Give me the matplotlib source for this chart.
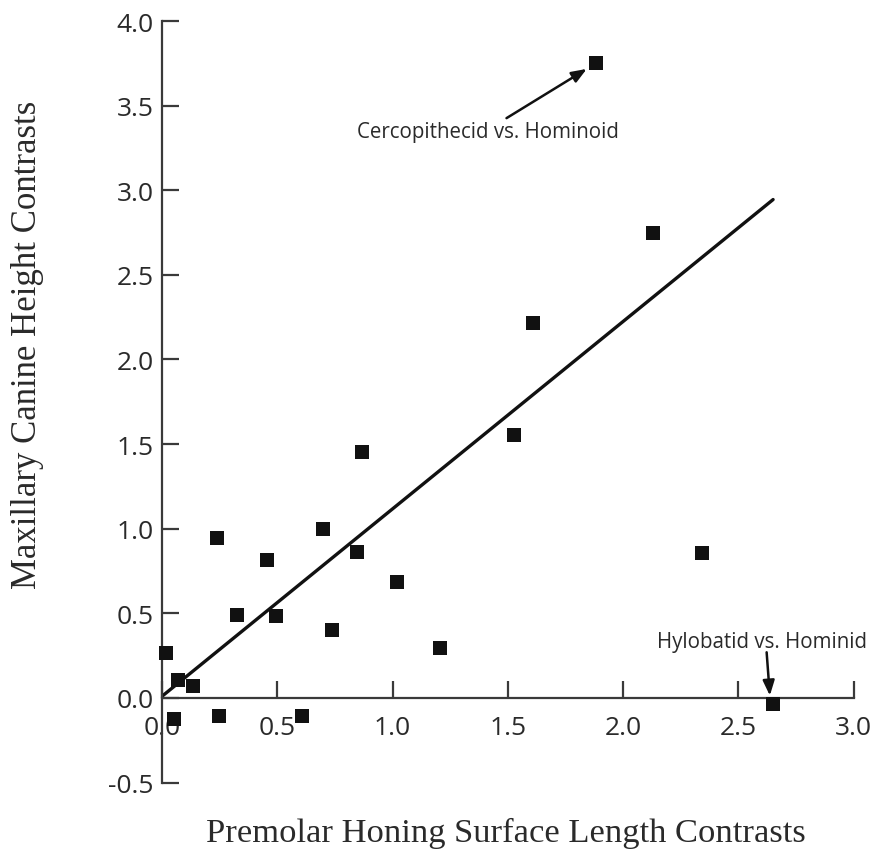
import matplotlib
matplotlib.use("Agg")
import matplotlib.pyplot as plt

# Data (phylogenetic contrasts)
honing_x = [0.017, 0.071, 0.136, 0.053, 0.247, 0.608, 0.237, 0.325, 0.457, 0.496,
            0.697, 0.737, 0.847, 0.869, 1.018, 1.207, 1.526, 1.609, 1.881, 2.129,
            2.342, 2.651]
canine_y = [0.266, 0.108, 0.073, -0.124, -0.108, -0.108, 0.944, 0.492, 0.814, 0.483,
            1.001, 0.404, 0.863, 1.454, 0.684, 0.294, 1.554, 2.216, 3.753, 2.748,
            0.857, -0.035]
fit_x = [0.0, 2.65]
fit_y = [0.01, 2.945]
x_ticks = [0.0, 0.5, 1.0, 1.5, 2.0, 2.5, 3.0]
y_ticks = [-0.5, 0.0, 0.5, 1.0, 1.5, 2.0, 2.5, 3.0, 3.5, 4.0]

W, H = 876, 853
fig = plt.figure(figsize=(W / 100, H / 100), dpi=100)
ax = fig.add_axes([162 / W, (H - 783.6) / H, (853.8 - 162) / W, (783.6 - 22) / H])
ax.set_xlim(0, 3.0)
ax.set_ylim(-0.5, 4.0)

spine_col = "#3a3a3a"
text_col = "#2a2a2a"
ax.spines["top"].set_visible(False)
ax.spines["right"].set_visible(False)
ax.spines["bottom"].set_position(("data", 0.0))
for s in ("left", "bottom"):
    ax.spines[s].set_color(spine_col)
    ax.spines[s].set_linewidth(1.6)

ax.set_xticks(x_ticks)
ax.set_xticklabels([f"{v:.1f}" for v in x_ticks])
ax.set_yticks(y_ticks)
ax.set_yticklabels([f"{v:.1f}" for v in y_ticks])
ax.tick_params(axis="both", direction="in", length=12, width=1.6, color=spine_col,
               labelsize=19, labelcolor=text_col)
ax.tick_params(axis="x", pad=12)
ax.tick_params(axis="y", pad=6)
for lab in ax.get_xticklabels() + ax.get_yticklabels():
    lab.set_fontfamily("Open Sans")

ax.plot(fit_x, fit_y, color="#111111", lw=2.4, solid_capstyle="round", zorder=2)
ax.scatter(honing_x, canine_y, marker="s", s=105, color="#111111", linewidths=0,
           clip_on=False, zorder=3)

ax.annotate("", xy=(1.842, 3.717), xytext=(1.494, 3.426),
            arrowprops=dict(arrowstyle="-|>,head_length=0.9,head_width=0.35",
                            color="#111111", lw=1.8, shrinkA=0, shrinkB=0))
ax.text(1.414, 3.345, "Cercopithecid vs. Hominoid", ha="center", va="center",
        fontsize=14.8, family="Open Sans", color=text_col)

ax.annotate("", xy=(2.636, 0.014), xytext=(2.622, 0.270),
            arrowprops=dict(arrowstyle="-|>,head_length=0.9,head_width=0.35",
                            color="#111111", lw=1.8, shrinkA=0, shrinkB=0))
ax.text(2.601, 0.331, "Hylobatid vs. Hominid", ha="center", va="center",
        fontsize=14.8, family="Open Sans", color=text_col)

fig.text(506 / W, 1 - 833 / H, "Premolar Honing Surface Length Contrasts",
         ha="center", va="center", fontsize=24.8, family="Liberation Serif", color=text_col)
fig.text(28 / W, 1 - 345 / H, "Maxillary Canine Height Contrasts", rotation=90,
         ha="center", va="center", fontsize=25, family="Liberation Serif", color=text_col)

fig.savefig("out.png", dpi=100, facecolor="white")
